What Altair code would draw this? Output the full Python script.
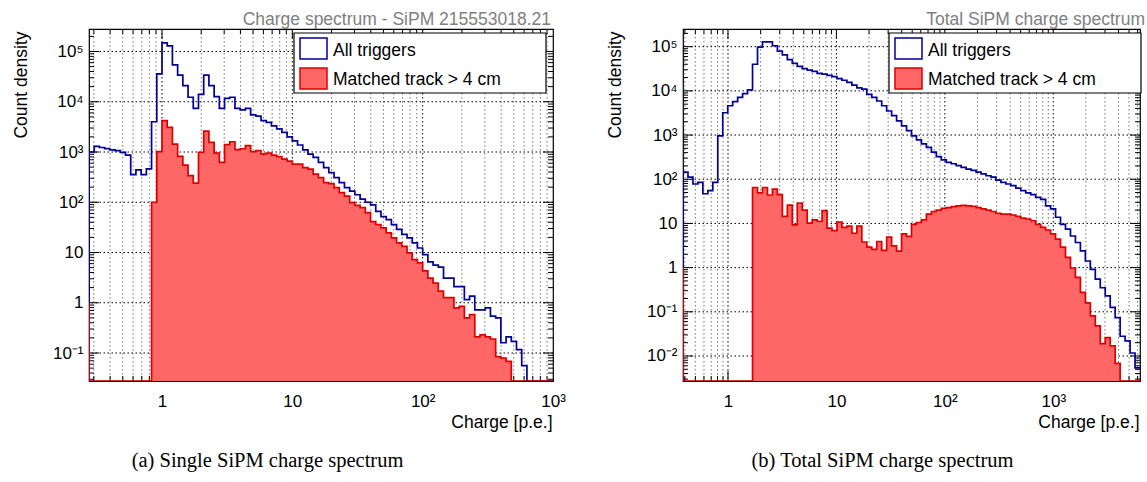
import altair as alt
import numpy as np

# ---------------- data ----------------
LEFT_LOG_EDGES = (-0.56, 3.0)      # log10 of first / last bin edge
LEFT_NBINS = 89
left_all = [1000, 1290, 1230, 1170, 1100, 1070, 980, 870, 355, 440,
            355, 460, 4000, 36000, 148000, 129000, 54000, 34000, 21000, 12300,
            7400, 14000, 34000, 21000, 12600, 7400, 11700, 12300, 7400, 6900,
            7400, 5500, 5200, 4200, 3900, 3300, 2900, 2450, 2000, 1660,
            1380, 1100, 910, 780, 620, 490, 390, 310, 245, 195,
            166, 141, 115, 100, 89, 66, 52, 45, 36, 29,
            23, 19.5, 15.5, 12.3, 9.1, 6.5, 5.6, 5.1, 3.1, 3.1,
            2.1, 2.1, 1.15, 1.35, 0.72, 0.72, 0.79, 0.54, 0.50, 0.16,
            0.21, 0.17, 0.117, 0.056, 0, 0, 0, 0, 0]
left_matched = [0, 0, 0, 0, 0, 0, 0, 0, 0, 0, 0, 0,
                100, 1020, 4200, 3100, 1440, 820, 550, 340,
                240, 980, 2600, 1550, 950, 620, 1400, 1600, 1120, 1160,
                1340, 1020, 1070, 910, 950, 870, 810, 720, 660, 575,
                575, 490, 457, 363, 309, 245, 234, 195, 155, 132,
                98, 87, 78, 62, 41, 36, 31, 24.5, 19.5, 15.5,
                13.2, 9.8, 7.2, 6.2, 4.3, 3.1, 2.45, 1.7, 1.26, 1.26,
                0.79, 0.85, 0.50, 0.58, 0.21, 0.23, 0.21, 0.19, 0.085, 0.079,
                0.068, 0, 0, 0, 0, 0, 0, 0, 0]

RIGHT_LOG_EDGES = (-0.415, 3.80)
RIGHT_NBINS = 92
right_all = [145, 112, 78, 85, 47, 55, 85, 955, 3200, 4600,
             5700, 7100, 8700, 10500, 40000, 98000, 129000, 129000, 105000, 79000,
             65000, 51000, 42000, 36000, 32000, 29500, 27500, 25000, 24000, 22400,
             21000, 19000, 17400, 15500, 13500, 11700, 11000, 8300, 7100, 5900,
             4600, 3500, 2750, 2100, 1620, 1260, 955, 780, 630, 525,
             410, 325, 275, 240, 224, 204, 186, 170, 158, 145,
             132, 120, 112, 95, 85, 78, 72, 63, 55, 49,
             45, 39, 35, 25, 21.4, 13.8, 9.5, 7.4, 5.2, 3.7,
             2.4, 1.41, 0.91, 0.55, 0.35, 0.23, 0.126, 0.074, 0.028, 0.022,
             0.0117, 0.0054]
right_matched = [0, 0, 0, 0, 0, 0, 0, 0, 0, 0, 0, 0, 0, 0,
                 65, 49, 65, 44, 60, 45,
                 14.5, 26, 9.3, 29, 20, 10.2, 12, 11.2, 19.5, 7.8,
                 6.9, 10.7, 8.1, 8.7, 6.0, 8.7, 3.8, 2.9, 2.6, 3.9,
                 2.45, 4.9, 3.1, 2.35, 5.8, 5.1, 9.5, 10.5, 12, 16.2,
                 18.6, 20, 21.9, 22.9, 24, 25, 25.7, 25, 24.5, 22.9,
                 21.4, 20, 18.6, 17, 16.2, 16.2, 15.5, 14.5, 13.2, 12.6,
                 11.5, 9.5, 8.1, 7.1, 5.8, 4.4, 2.9, 1.7, 0.98, 0.60,
                 0.275, 0.16, 0.081, 0.048, 0.019, 0.026, 0.017, 0.0068, 0, 0,
                 0, 0]

left_ydomain = (10 ** -1.557, 10 ** 5.448)
right_ydomain = (10 ** -2.566, 10 ** 5.40)
left_yticks = [0.1, 1, 10, 100, 1e3, 1e4, 1e5]
right_yticks = [0.01, 0.1, 1, 10, 100, 1e3, 1e4, 1e5]
xticks = [1, 10, 100, 1000]

left_title = "Charge spectrum - SiPM 215553018.21"
right_title = "Total SiPM charge spectrum"
left_caption = "(a) Single SiPM charge spectrum"
right_caption = "(b) Total SiPM charge spectrum"
legend_labels = ["All triggers", "Matched track > 4 cm"]
x_title = "Charge [p.e.]"
y_title = "Count density"

# ---------------- style ----------------
FONT = "Liberation Sans"
SERIF = "Liberation Serif"
BLUE = "#000099"
RED = "#dd0000"
FILL = "#ff6666"
FS = 17.5

LABEL_EXPR = ("datum.value < 0.05 ? '10⁻²' : datum.value < 0.5 ? '10⁻¹' : "
              "datum.value < 5 ? '1' : datum.value < 50 ? '10' : "
              "datum.value < 500 ? '10²' : datum.value < 5000 ? '10³' : "
              "datum.value < 50000 ? '10⁴' : '10⁵'")


def one_row():
    return alt.Data(values=[{"a": 0}])


def panel(log_edges, nbins, all_vals, matched_vals, ydom, yticks, w, h,
          title, caption, caption_x, title_x, anchor=False):
    edges = 10 ** np.linspace(log_edges[0], log_edges[1], nbins + 1)
    xmin, xmax = float(edges[0]), float(edges[-1])
    ymin, ymax = float(ydom[0]), float(ydom[1])

    xs = alt.Scale(type="log", domain=[xmin, xmax], nice=False)
    ys = alt.Scale(type="log", domain=[ymin, ymax], nice=False)
    xaxis = alt.Axis(values=xticks, labelExpr=LABEL_EXPR, ticks=False, tickSize=0,
                     domain=False, grid=False, labelFont=FONT, labelFontSize=17,
                     labelColor="black", labelPadding=25, labelBaseline="alphabetic",
                     labelFlush=False, labelOverlap=False, title=x_title,
                     titleFont=FONT, titleFontSize=FS, titleFontWeight="normal",
                     titleColor="black", titleAnchor="end", titleAlign="right",
                     titleBaseline="alphabetic", titleX=w - 1, titleY=46)
    yaxis = alt.Axis(values=yticks, labelExpr=LABEL_EXPR, ticks=False, tickSize=0,
                     domain=False, grid=False, labelFont=FONT, labelFontSize=17,
                     labelColor="black", labelPadding=6, labelFlush=False,
                     labelOverlap=False, title=y_title, titleFont=FONT,
                     titleFontSize=FS, titleFontWeight="normal", titleColor="black",
                     titleAngle=270, titleAlign="right", titleBaseline="alphabetic",
                     titleX=-63, titleY=2)
    X = alt.X("x:Q", scale=xs, axis=xaxis)
    Y = alt.Y("y:Q", scale=ys, axis=yaxis)

    # grid / tick positions (axis structure)
    lo, hi = int(np.floor(log_edges[0])), int(np.ceil(log_edges[1]))
    x_major, x_minor = [], []
    for e in range(lo, hi + 1):
        for m in range(1, 10):
            v = m * 10.0 ** e
            if xmin * 1.0001 < v < xmax * 0.9999:
                (x_major if m == 1 else x_minor).append({"x": v})
    ylo, yhi = int(np.floor(np.log10(ymin))), int(np.ceil(np.log10(ymax)))
    y_major, y_minor = [], []
    for e in range(ylo, yhi + 1):
        for m in range(1, 10):
            v = m * 10.0 ** e
            if ymin * 1.0001 < v < ymax * 0.9999:
                (y_major if m == 1 else y_minor).append({"y": v})

    layers = []
    # gridlines
    layers.append(alt.Chart(alt.Data(values=x_minor)).mark_rule(
        color="#777777", strokeWidth=1, strokeDash=[1.5, 2.5]).encode(x=X))
    layers.append(alt.Chart(alt.Data(values=x_major)).mark_rule(
        color="black", strokeWidth=1, strokeDash=[1.5, 2.5]).encode(x=X))
    layers.append(alt.Chart(alt.Data(values=y_major)).mark_rule(
        color="black", strokeWidth=1, strokeDash=[1.5, 2.5]).encode(y=Y))

    # ticks (inside the frame, all four sides)
    for data, ln in ((x_major, 10), (x_minor, 5)):
        layers.append(alt.Chart(alt.Data(values=data)).mark_rule(color="black").encode(
            x=X, y=alt.value(h), y2=alt.value(h - ln)))
        layers.append(alt.Chart(alt.Data(values=data)).mark_rule(color="black").encode(
            x=X, y=alt.value(0), y2=alt.value(ln)))
    for data, ln in ((y_major, 10), (y_minor, 5)):
        layers.append(alt.Chart(alt.Data(values=data)).mark_rule(color="black").encode(
            y=Y, x=alt.value(0), x2=alt.value(ln)))
        layers.append(alt.Chart(alt.Data(values=data)).mark_rule(color="black").encode(
            y=Y, x=alt.value(w), x2=alt.value(w - ln)))

    # blue histogram outline
    blue = [{"x": xmin, "y": ymin, "o": 0}]
    for i, v in enumerate(all_vals):
        blue.append({"x": float(edges[i]), "y": max(v, ymin), "o": i + 1})
    blue.append({"x": xmax, "y": max(all_vals[-1], ymin), "o": len(all_vals) + 1})
    layers.append(alt.Chart(alt.Data(values=blue)).mark_line(
        interpolate="step-after", color=BLUE, strokeWidth=1.7, clip=True).encode(
        x=X, y=Y, order="o:Q"))

    # red filled histogram
    red = []
    for i, v in enumerate(matched_vals):
        red.append({"x": float(edges[i]), "y": max(v, ymin), "y0": ymin, "o": i + 1})
    red.append({"x": xmax, "y": max(matched_vals[-1], ymin), "y0": ymin,
                "o": len(matched_vals) + 1})
    layers.append(alt.Chart(alt.Data(values=red)).mark_area(
        interpolate="step-after", fill=FILL, fillOpacity=1, clip=True).encode(
        x=X, y=Y, y2="y0:Q"))
    red_line = [{"x": xmin, "y": 1.0, "o": 0}] + red
    layers.append(alt.Chart(alt.Data(values=red_line)).mark_line(
        interpolate="step-after", color=RED, strokeWidth=1.7, clip=True).encode(
        x=X, y=Y, order="o:Q"))

    # legend
    lx0 = w - 259 if w > 460 else w - 251
    layers.append(alt.Chart(one_row()).mark_rect(
        fill="white", stroke="black", strokeWidth=1.2).encode(
        x=alt.value(lx0), x2=alt.value(lx0 + 252), y=alt.value(4), y2=alt.value(64)))
    layers.append(alt.Chart(one_row()).mark_rect(
        fill="white", stroke=BLUE, strokeWidth=1.5).encode(
        x=alt.value(lx0 + 6), x2=alt.value(lx0 + 33), y=alt.value(9), y2=alt.value(30)))
    layers.append(alt.Chart(one_row()).mark_rect(
        fill=FILL, stroke=RED, strokeWidth=1.5).encode(
        x=alt.value(lx0 + 6), x2=alt.value(lx0 + 33), y=alt.value(39), y2=alt.value(60)))
    for k, lab in enumerate(legend_labels):
        layers.append(alt.Chart(one_row()).mark_text(
            text=lab, align="left", baseline="alphabetic", font=FONT, fontSize=FS,
            color="black").encode(x=alt.value(lx0 + 39), y=alt.value(26.5 + 29 * k)))

    # panel title (top right, grey) and caption below
    layers.append(alt.Chart(one_row()).mark_text(
        text=title, align="right", baseline="alphabetic", font=FONT, fontSize=FS,
        color="#808080").encode(x=alt.value(title_x), y=alt.value(-4)))
    layers.append(alt.Chart(one_row()).mark_text(
        text=caption, align="center", baseline="alphabetic", font=SERIF, fontSize=20.5,
        color="black").encode(x=alt.value(caption_x), y=alt.value(438)))

    if anchor:
        layers.append(alt.Chart(one_row()).mark_rule(opacity=0, strokeOpacity=0).encode(
            x=alt.value(-88), x2=alt.value(-87), y=alt.value(-28), y2=alt.value(-27)))

    return alt.layer(*layers).properties(width=w, height=h)


left = panel(LEFT_LOG_EDGES, LEFT_NBINS, left_all, left_matched, left_ydomain,
             left_yticks, 464, 352, left_title, left_caption, 178.5, 462, anchor=True)
right = panel(RIGHT_LOG_EDGES, RIGHT_NBINS, right_all, right_matched, right_ydomain,
              right_yticks, 457, 352, right_title, right_caption, 199.5, 462)

chart = alt.hconcat(left, right, spacing=130, bounds="flush").properties(
    padding=0, background="white"
).configure_view(stroke="black", strokeWidth=1.2)

chart.save("out.html", embed_options={"renderer": "svg", "actions": False})
